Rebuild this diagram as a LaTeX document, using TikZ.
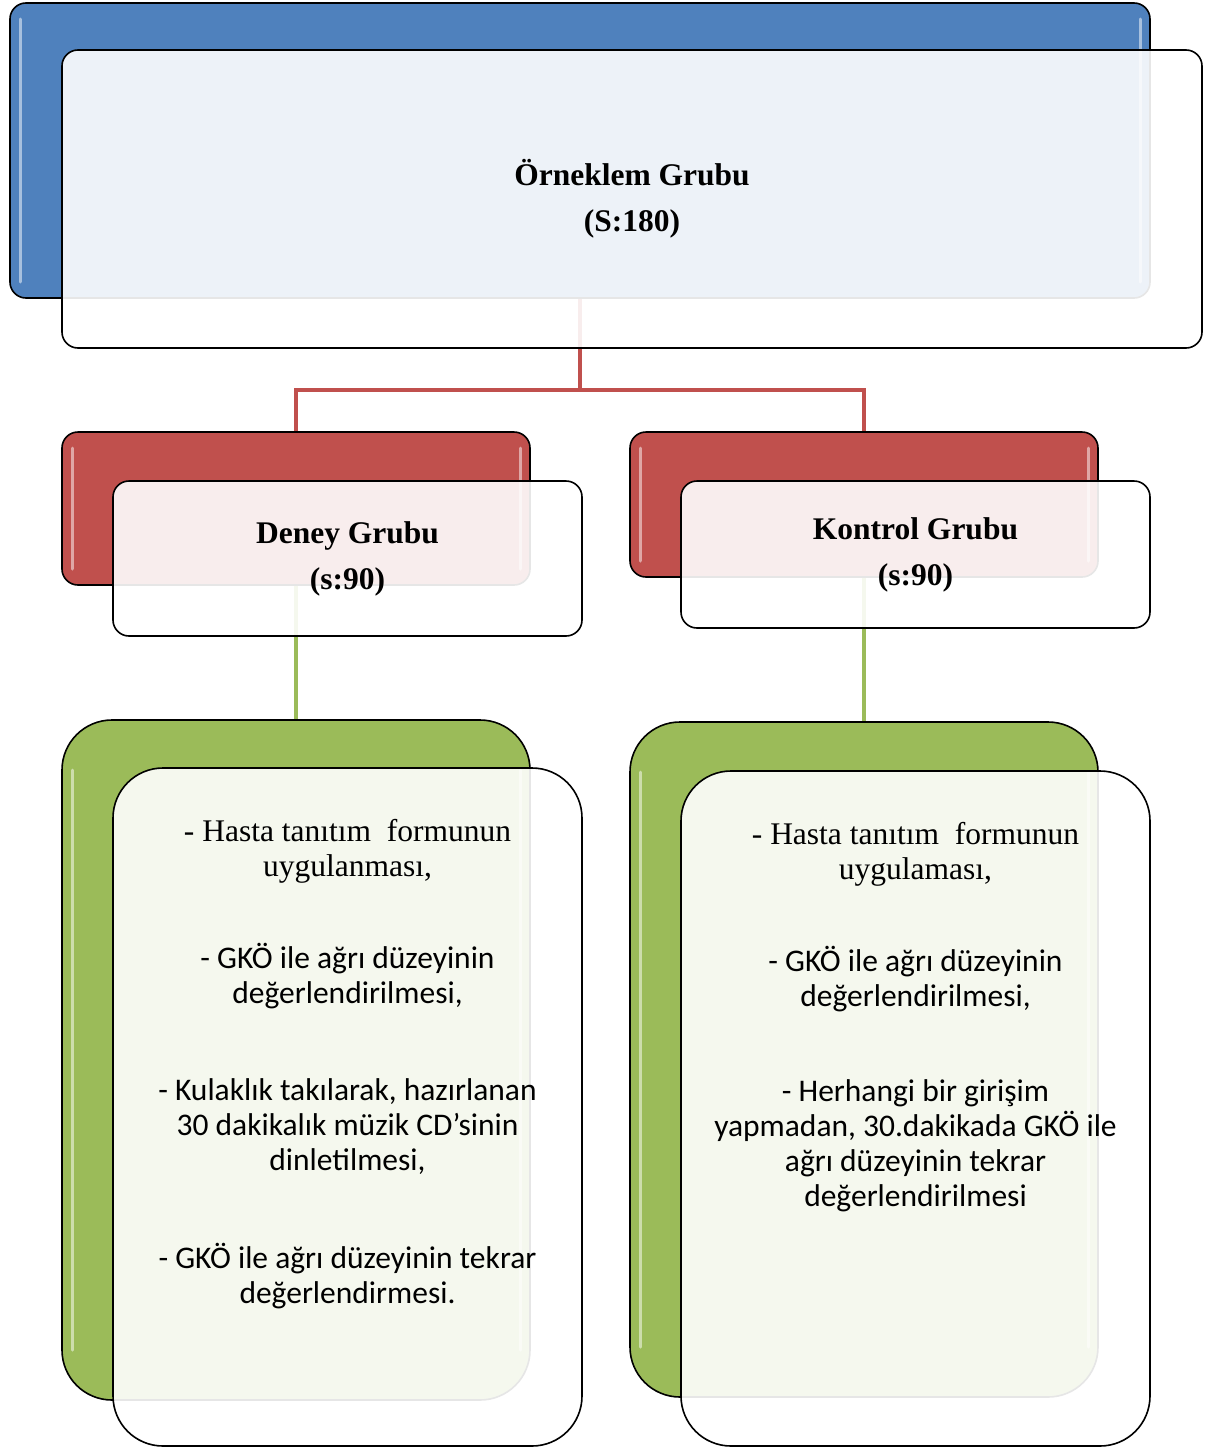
\documentclass[tikz,border=0pt]{standalone}
\usepackage{fontspec}
\setmainfont{Carlito}
\newfontfamily\trfont{Liberation Serif}
\usetikzlibrary{positioning}
\definecolor{topblue}{HTML}{4F81BD}
\definecolor{grpred}{HTML}{C0504D}
\definecolor{itemgreen}{HTML}{9BBB59}
\tikzset{
  backbox/.style={draw=black,line width=1.6pt,rounded corners=#1,inner sep=0pt,
    path picture={
      \draw[white,opacity=0.5,line width=3pt,line cap=round]
        ([xshift=10pt,yshift=-#1]path picture bounding box.north west) -- ([xshift=10pt,yshift=#1]path picture bounding box.south west);
      \draw[white,opacity=0.5,line width=3pt,line cap=round]
        ([xshift=-10pt,yshift=-#1]path picture bounding box.north east) -- ([xshift=-10pt,yshift=#1]path picture bounding box.south east);}},
  frontbox/.style={draw=black,line width=1.6pt,rounded corners=16pt,fill=white,fill opacity=0.9,text opacity=1,align=center,inner sep=0pt},
  headfont/.style={font=\trfont\bfseries\fontsize{31.5}{46}\selectfont},
  redlink/.style={draw=grpred,line width=4pt},
  greenlink/.style={draw=itemgreen,line width=4pt}
}
\begin{document}
\begin{tikzpicture}[x=1pt,y=-1pt,font=\fontsize{31.5}{35}\selectfont]
\useasboundingbox (0,0) rectangle (1217,1448);
% back layer
\node[backbox=16pt,fill=topblue,minimum width=1140pt,minimum height=295pt](topback) at (580,150.5){};
\node[backbox=16pt,fill=grpred,minimum width=468pt,minimum height=153pt](deback) at (296,508.5){};
\node[backbox=16pt,fill=grpred,minimum width=468pt,minimum height=145pt](kback) at (864,504.5){};
\node[backbox=50pt,fill=itemgreen,minimum width=468pt,minimum height=680pt](deitback) at (296,1060){};
\node[backbox=50pt,fill=itemgreen,minimum width=468pt,minimum height=675pt](kitback) at (864,1059.5){};
% connectors
\coordinate (split) at (580,390);
\draw[redlink](topback.south) -- (split) -| (deback.north);
\draw[redlink](split) -| (kback.north);
\draw[greenlink](deback.south) -- (deitback.north);
\draw[greenlink](kback.south) -- (kitback.north);
% front layer
\node[frontbox,headfont,minimum width=1140pt,minimum height=298pt](topfront) at (632,199){Örneklem Grubu\\(S:180)};
\node[frontbox,headfont,minimum width=469pt,minimum height=155pt](defront) at (347.5,558.5){Deney Grubu\\(s:90)};
\node[frontbox,headfont,minimum width=469pt,minimum height=147pt](kfront) at (915.5,554.5){Kontrol Grubu\\(s:90)};
\node[frontbox,rounded corners=50pt,minimum width=469pt,minimum height=678pt](deitfront) at (347.5,1107){};
\node[frontbox,rounded corners=50pt,minimum width=469pt,minimum height=675pt](kitfront) at (915.5,1108.5){};
% item texts
\node[align=center,anchor=north,inner sep=0pt](deitems) at ([yshift=-52pt]deitfront.north){\trfont - Hasta tanıtım\ \ formunun\\\trfont uygulanması,\\[57pt]
  - GKÖ ile ağrı düzeyinin\\değerlendirilmesi,\\[62pt]
  - Kulaklık takılarak, hazırlanan\\30 dakikalık müzik CD’sinin\\dinletilmesi,\\[63pt]
  - GKÖ ile ağrı düzeyinin tekrar\\değerlendirmesi.};
\node[align=center,anchor=north,inner sep=0pt](kitems) at ([yshift=-52pt]kitfront.north){\trfont - Hasta tanıtım\ \ formunun\\\trfont uygulaması,\\[57pt]
  - GKÖ ile ağrı düzeyinin\\değerlendirilmesi,\\[60pt]
  - Herhangi bir girişim\\yapmadan, 30.dakikada GKÖ ile\\ağrı düzeyinin tekrar\\değerlendirilmesi};
\end{tikzpicture}
\end{document}
